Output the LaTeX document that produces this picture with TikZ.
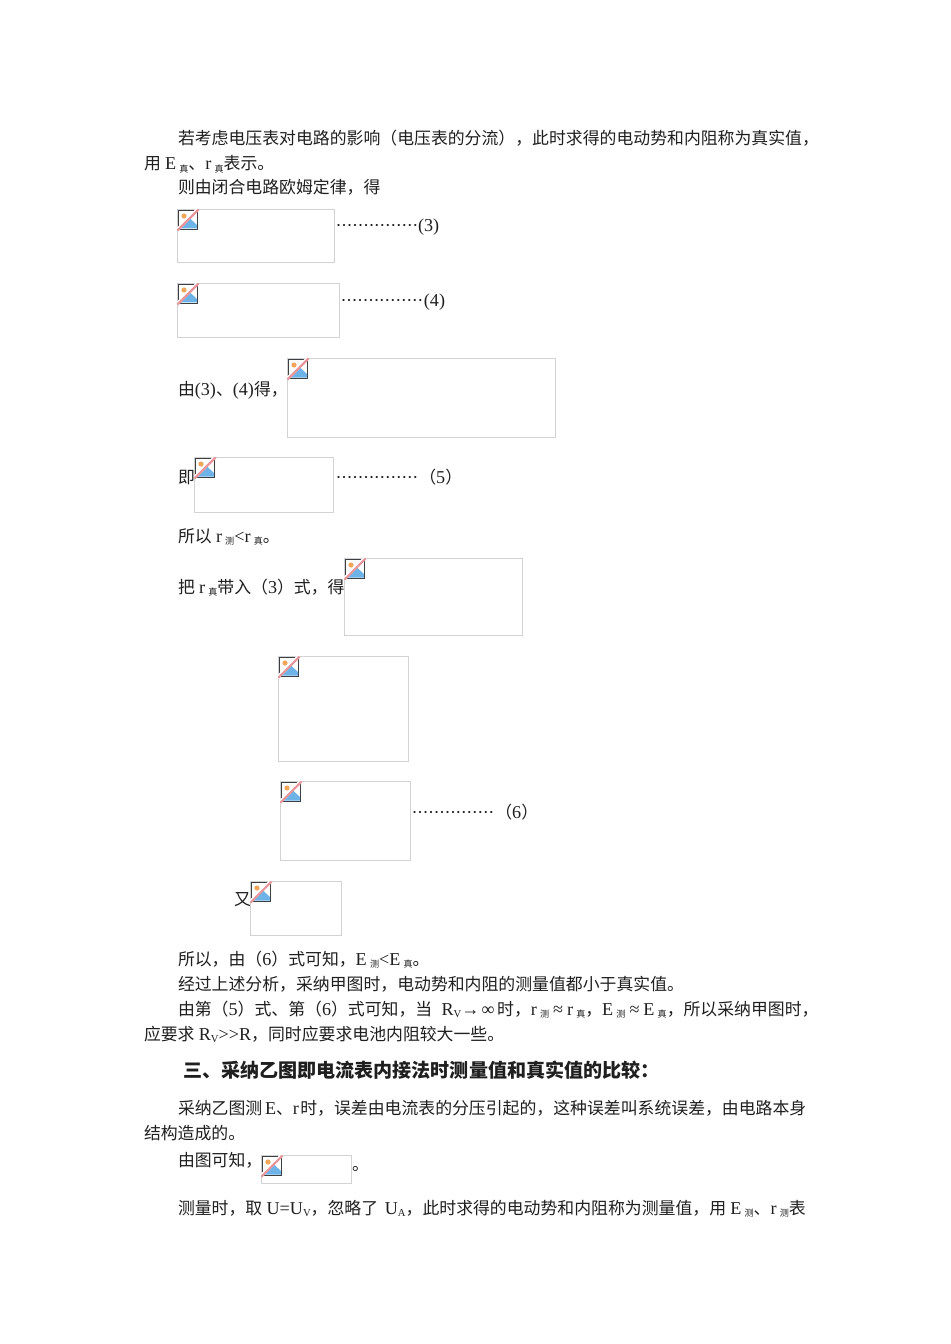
\documentclass[tikz,border=0pt]{standalone}
\usepackage{fontspec}
\setmainfont{Noto Sans CJK SC}
\newfontfamily\latfont{Liberation Serif}
\newcommand{\la}[1]{{\latfont\fontsize{13.6}{15}\selectfont #1}}
\newcommand{\sbz}[1]{\kern2.4pt\raisebox{-2.2pt}{\fontsize{6.8}{7}\selectfont #1}}
\newcommand{\sbl}[1]{\raisebox{-2.2pt}{\latfont\fontsize{8}{8}\selectfont #1}}
\newcommand{\wide}[1]{\makebox[13.4pt][c]{\la{#1}}}
\newcommand{\gap}{\kern3.2pt}
\newcommand{\leaderrow}{\hbox to 61.5pt{\xleaders\hbox to 4.1pt{\hss\la{·}\hss}\hfill}}
\definecolor{framegray}{HTML}{D2D2D2}
\definecolor{iconedge}{HTML}{3C4043}
\definecolor{iconblue}{HTML}{6DB3E8}
\definecolor{iconsun}{HTML}{F2A65A}
\definecolor{iconred}{HTML}{E8969B}
\tikzset{
  txt/.style={anchor=base west,inner sep=0pt,outer sep=0pt,font=\fontsize{12.65}{15}\selectfont,text=black!88},
  headtxt/.style={txt,font=\fontsize{14.3}{16}\selectfont\bfseries},
  imgframe/.style={draw=framegray,line width=0.75pt,fill=white},
  brokenicon/.pic={
    \fill[white] (0,0) rectangle (20,20);
    \fill[iconblue] (2,18.5) -- (12,8.5) -- (19,15) -- (19,18.5) -- cycle;
    \fill[iconsun] (6,6) circle (2.6);
    \draw[iconedge,line width=1.1pt] (0.5,19.5) -- (0.5,0.5) -- (19.5,0.5) -- (19.5,19.5) -- cycle;
    \draw[white,line width=2.6pt] (0,19) -- (19,0);
    \draw[iconred,line width=1.6pt] (-0.5,20.5) -- (20.5,-0.5);
  }
}
\begin{document}
\begin{tikzpicture}[x=0.75pt,y=-0.75pt]
\useasboundingbox (0,0) rectangle (950,1344);
\fill[white] (0,0) rectangle (950,1344);
% image placeholders
\foreach \xa/\ya/\xb/\yb in {177/209/335/263,177/283/340/338,287/358/556/438,194/457/334/513,344/558/523/636,278/656/409/762,280/781/411/861,250/881/342/936,261/1155/352/1184}{
  \draw[imgframe] (\xa+.5,\ya+.5) rectangle (\xb-.5,\yb-.5);
  \pic at (\xa+1,\ya+1) {brokenicon};
}
% text
\node[txt] (t1) at (178,145) {若考虑电压表对电路的影响（电压表的分流），此时求得的电动势和内阻称为真实值，};
\node[txt] (t2) at (144,170) {用\gap\la{E}\sbz{真}、\la{r}\sbz{真}表示。};
\node[txt] (t3) at (178,194) {则由闭合电路欧姆定律，得};
\node[txt] (eq3) at (336,232) {\leaderrow\la{(3)}};
\node[txt] (eq4) at (341,306) {\leaderrow\kern.7pt\la{(4)}};
\node[txt] (t4) at (178,395) {由\la{(3)}、\la{(4)}得，};
\node[txt] (t5) at (178,483) {即};
\node[txt] (eq5) at (336,483) {\leaderrow\kern1pt（\la{5}）};
\node[txt] (t6) at (178,542) {所以\gap\la{r}\sbz{测}\la{<r}\sbz{真}。};
\node[txt] (t7) at (178,593) {把\gap\la{r}\sbz{真}带入（\la{3}）式，得};
\node[txt] (eq6) at (412,818) {\leaderrow\kern1pt（\la{6}）};
\node[txt] (t8) at (234,905) {又};
\node[txt] (t9) at (178,965) {所以，由（\la{6}）式可知，\la{E}\sbz{测}\la{<E}\sbz{真}。};
\node[txt] (t10) at (178,990) {经过上述分析，采纳甲图时，电动势和内阻的测量值都小于真实值。};
\node[txt] (t11) at (178,1015) {由第（\la{5}）式、第（\la{6}）式可知，当\kern7pt\la{R}\sbl{V}\wide{→}\wide{∞}时，\la{r}\sbz{测}\wide{≈}\la{r}\sbz{真}，\la{E}\sbz{测}\wide{≈}\la{E}\sbz{真}，所以采纳甲图时，};
\node[txt] (t12) at (144,1040) {应要求\gap\la{R}\sbl{V}\la{>>R}，同时应要求电池内阻较大一些。};
\node[headtxt] (h3) at (183,1077) {三、采纳乙图即电流表内接法时测量值和真实值的比较：};
\node[txt] (t13) at (178,1114) {采纳乙图测\kern2pt\la{E}、\la{r}\kern1pt 时，误差由电流表的分压引起的，这种误差叫系统误差，由电路本身};
\node[txt] (t14) at (144,1139) {结构造成的。};
\node[txt] (t15) at (178,1166) {由图可知，};
\node[txt] (t16) at (352,1170) {。};
\node[txt] (t17) at (178,1214) {测量时，取\gap\la{U=U}\sbl{V}，忽略了\kern5pt\la{U}\sbl{A}，此时求得的电动势和内阻称为测量值，用\gap\la{E}\sbz{测}、\la{r}\sbz{测}表};
\end{tikzpicture}
\end{document}
